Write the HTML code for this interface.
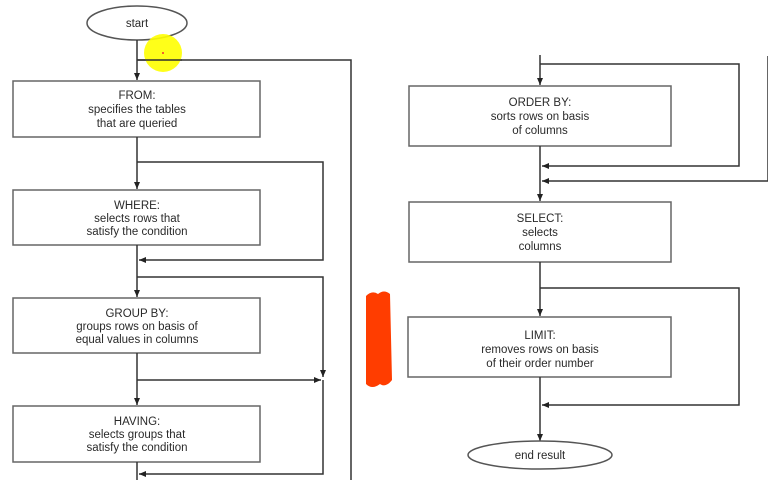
<!DOCTYPE html>
<html><head><meta charset="utf-8"><style>
html,body{margin:0;padding:0;background:#fff;width:768px;height:486px;overflow:hidden}
svg text{font-family:"Liberation Sans",Arial,sans-serif;font-size:11.5px;fill:#2a2a2a;text-anchor:middle}
</style></head><body>
<svg width="768" height="486" viewBox="0 0 768 486" xmlns="http://www.w3.org/2000/svg">
<defs>
<marker id="a" markerWidth="8" markerHeight="8" refX="7" refY="4" orient="auto" markerUnits="userSpaceOnUse">
<path d="M0,1 L7,4 L0,7 z" fill="#222"/></marker>
</defs>
<g fill="none" stroke="#333" stroke-width="1.5">
<ellipse cx="137" cy="23" rx="50" ry="17" stroke="#555"/>
<line x1="137" y1="40" x2="137" y2="80" marker-end="url(#a)"/>
<polyline points="137,60 351,60 351,480"/>
<rect x="13" y="81" width="247" height="56" stroke="#666"/>
<line x1="137" y1="137" x2="137" y2="189" marker-end="url(#a)"/>
<polyline points="137,162 323,162 323,260 139,260" marker-end="url(#a)"/>
<rect x="13" y="190" width="247" height="55" stroke="#666"/>
<line x1="137" y1="245" x2="137" y2="297" marker-end="url(#a)"/>
<polyline points="137,277 323,277 323,377" marker-end="url(#a)"/>
<rect x="13" y="298" width="247" height="55" stroke="#666"/>
<line x1="137" y1="353" x2="137" y2="405" marker-end="url(#a)"/>
<line x1="137" y1="380" x2="321" y2="380" marker-end="url(#a)"/>
<rect x="13" y="406" width="247" height="56" stroke="#666"/>
<line x1="137" y1="462" x2="137" y2="480"/>
<polyline points="323,380 323,474 139,474" marker-end="url(#a)"/>
<line x1="540" y1="55" x2="540" y2="85" marker-end="url(#a)"/>
<polyline points="540,64 739,64 739,166 542,166" marker-end="url(#a)"/>
<line x1="768" y1="56" x2="768" y2="181"/>
<polyline points="768,181 542,181" marker-end="url(#a)"/>
<rect x="409" y="86" width="262" height="60" stroke="#666"/>
<line x1="540" y1="146" x2="540" y2="201" marker-end="url(#a)"/>
<rect x="409" y="202" width="262" height="60" stroke="#666"/>
<line x1="540" y1="262" x2="540" y2="316" marker-end="url(#a)"/>
<polyline points="540,288 739,288 739,405 542,405" marker-end="url(#a)"/>
<rect x="408" y="317" width="263" height="60" stroke="#666"/>
<line x1="540" y1="377" x2="540" y2="441" marker-end="url(#a)"/>
<ellipse cx="540" cy="455" rx="72" ry="14" stroke="#555"/>
</g>
<circle cx="163" cy="53" r="19" fill="#ffff00" opacity="0.9"/>
<circle cx="163" cy="53" r="1" fill="#e33"/>
<line x1="137" y1="60" x2="182" y2="60" stroke="#333" stroke-width="1.5"/>
<path d="M366,296 Q372,290 378,294 Q384,289 390,294 L392,380 Q386,388 380,384 Q372,390 366,384 Z" fill="#ff3d00"/>
<text x="137" y="27">start</text>
<text x="137" y="99">FROM:</text><text x="137" y="113">specifies the tables</text><text x="137" y="127">that are queried</text>
<text x="137" y="209">WHERE:</text><text x="137" y="222">selects rows that</text><text x="137" y="235">satisfy the condition</text>
<text x="137" y="317">GROUP BY:</text><text x="137" y="330">groups rows on basis of</text><text x="137" y="343">equal values in columns</text>
<text x="137" y="425">HAVING:</text><text x="137" y="438">selects groups that</text><text x="137" y="451">satisfy the condition</text>
<text x="540" y="106">ORDER BY:</text><text x="540" y="120">sorts rows on basis</text><text x="540" y="134">of columns</text>
<text x="540" y="222">SELECT:</text><text x="540" y="236">selects</text><text x="540" y="250">columns</text>
<text x="540" y="339">LIMIT:</text><text x="540" y="353">removes rows on basis</text><text x="540" y="367">of their order number</text>
<text x="540" y="459">end result</text>
</svg>
</body></html>
